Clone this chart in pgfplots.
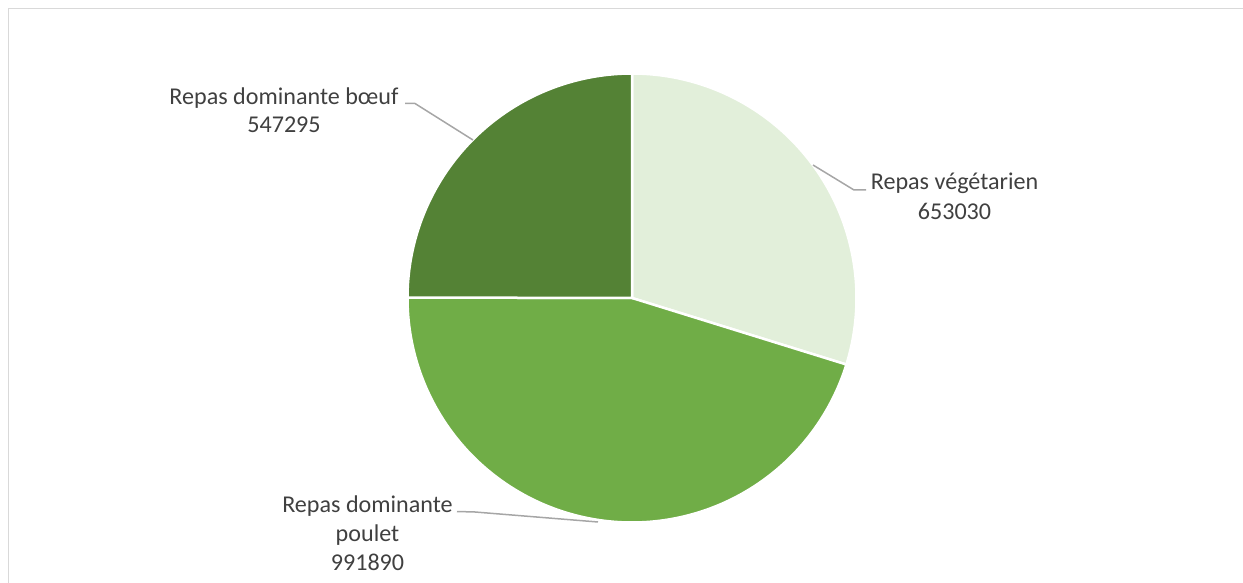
\documentclass[border=0pt]{standalone}
\usepackage{fontspec}
\setmainfont{Carlito}
\usepackage{pgfplots}
\usepackage{pgfplotstable}
\pgfplotsset{compat=1.18}
\definecolor{vegc}{HTML}{E2EFDA}
\definecolor{poulc}{HTML}{70AD47}
\definecolor{boeufc}{HTML}{548235}
\definecolor{leadc}{HTML}{A6A6A6}
\definecolor{txtc}{HTML}{404040}
\definecolor{framec}{HTML}{D9D9D9}
\tikzset{lbl/.style={font=\fontsize{24.2}{29}\selectfont, text=txtc, inner sep=0pt, anchor=base}}
\pgfplotstableread{
cat value
veg 653030
poulet 991890
boeuf 547295
}\piedata
\pgfplotstablegetelem{0}{value}\of\piedata \edef\vA{\pgfplotsretval}
\pgfplotstablegetelem{1}{value}\of\piedata \edef\vB{\pgfplotsretval}
\pgfplotstablegetelem{2}{value}\of\piedata \edef\vC{\pgfplotsretval}
\edef\tot{\fpeval{\vA+\vB+\vC}}
\edef\aA{\fpeval{round(90-360*\vA/\tot,4)}}
\edef\aB{\fpeval{round(\aA-360*\vB/\tot,4)}}
\edef\aC{\fpeval{round(\aB-360*\vC/\tot,4)}}
\begin{document}
\begin{tikzpicture}
\begin{axis}[
  x=1bp, y=1bp,
  xmin=0, xmax=1243, ymin=0, ymax=583,
  hide axis, clip=false, no markers,
]
\draw[framec, line width=1.5bp] (axis cs:8.5,-10) -- (axis cs:8.5,574.5) -- (axis cs:1260,574.5);
\addplot[fill=vegc, draw=white, line width=2.5bp, domain=\aA:90, samples=120, variable=\t]
  ({632+224.5*cos(\t)},{285+224.5*sin(\t)}) -- (axis cs:632,285) -- cycle;
\addplot[fill=poulc, draw=white, line width=2.5bp, domain=\aB:\aA, samples=160, variable=\t]
  ({632+224.5*cos(\t)},{285+224.5*sin(\t)}) -- (axis cs:632,285) -- cycle;
\addplot[fill=boeufc, draw=white, line width=2.5bp, domain=\aC:\aB, samples=120, variable=\t]
  ({632+224.5*cos(\t)},{285+224.5*sin(\t)}) -- (axis cs:632,285) -- cycle;
\draw[leadc, line width=1.5bp] (axis cs:405,479.5) -- (axis cs:415,479.5) -- (axis cs:473,443);
\draw[leadc, line width=1.5bp] (axis cs:813,418) -- (axis cs:854,393) -- (axis cs:866,393);
\draw[leadc, line width=1.5bp] (axis cs:457,71.5) -- (axis cs:475,71) -- (axis cs:598,61);
\node[lbl] at (axis cs:284,478) {Repas dominante bœuf};
\node[lbl] at (axis cs:284,450) {547295};
\node[lbl] at (axis cs:954.5,393) {Repas végétarien};
\node[lbl] at (axis cs:954.5,364) {653030};
\node[lbl] at (axis cs:367.5,71) {Repas dominante};
\node[lbl] at (axis cs:367.5,42) {poulet};
\node[lbl] at (axis cs:367.5,13) {991890};
\end{axis}
\pgfresetboundingbox
\useasboundingbox (0,0) rectangle (1243bp,583bp);
\end{tikzpicture}
\end{document}
